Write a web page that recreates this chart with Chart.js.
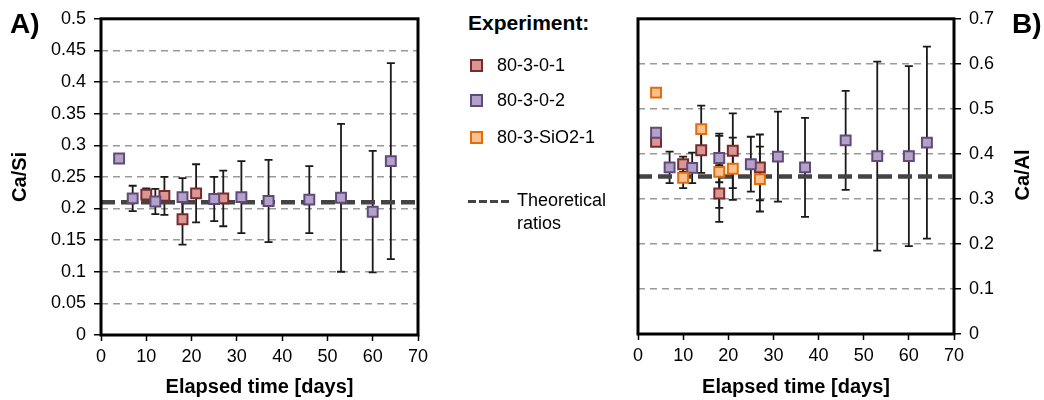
<!DOCTYPE html>
<html>
<head>
<meta charset="utf-8">
<title>Ca/Si y Ca/Al</title>
<script src="https://cdn.jsdelivr.net/npm/chart.js@4.4.1/dist/chart.umd.min.js"></script>
<style>
  body { margin: 0; background: #fff; font-family: "Liberation Sans", Arial, sans-serif; }
  #wrap { position: relative; width: 1044px; height: 400px; overflow: hidden; }
  #graficoA { position: absolute; left: 0; top: 0; }
  #graficoB { position: absolute; left: 600px; top: 0; }
  .txt { position: absolute; white-space: nowrap; color: #000; }
  .panel { font-weight: bold; font-size: 28px; line-height: 28px; }
  .ytitulo { font-weight: bold; font-size: 20px; line-height: 24px; width: 100px; text-align: center; transform: rotate(-90deg); }
  .leyenda { font-size: 18px; line-height: 18px; }
  .marca { position: absolute; width: 9px; height: 9px; border: 2px solid; }
  .guion { position: absolute; width: 42px; height: 3px;
           background: repeating-linear-gradient(90deg, #444 0 8px, transparent 8px 11px); }
</style>
</head>
<body>
<div id="wrap">
  <canvas id="graficoA" width="440" height="400"></canvas>
  <canvas id="graficoB" width="444" height="400"></canvas>
  <div class="txt panel" style="left:10px; top:10px;">A)</div>
  <div class="txt panel" style="left:1012px; top:10px;">B)</div>
  <div class="txt ytitulo" style="left:972px; top:163px;">Ca/Al</div>
  <div id="leyenda"></div>
</div>
<script>
// series
const series = ["80-3-0-1", "80-3-0-2", "80-3-SiO2-1"];
const rellenos = ["#d99694", "#b3a2c7", "#fac090"];
const bordes = ["#772c2a", "#604a7b", "#e46c0a"];

// Ca/Si
const diasCaSi01 = [10, 14, 18, 21, 27];
const caSi01 = [0.222, 0.220, 0.183, 0.224, 0.216];
const errCaSi01 = [0.010, 0.030, 0.040, 0.046, 0.044];
const diasCaSi02 = [4, 7, 12, 18, 25, 31, 37, 46, 53, 60, 64];
const caSi02 = [0.279, 0.216, 0.211, 0.218, 0.215, 0.218, 0.212, 0.214, 0.217, 0.195, 0.275];
const errCaSi02 = [0, 0.020, 0.020, 0.030, 0.035, 0.057, 0.065, 0.053, 0.117, 0.096, 0.155];

// Ca/Al
const diasCaAl01 = [4, 10, 14, 18, 21, 27];
const caAl01 = [0.427, 0.377, 0.408, 0.312, 0.407, 0.370];
const errCaAl01 = [0, 0.017, 0.050, 0.063, 0.083, 0.073];
const diasCaAl02 = [4, 7, 12, 18, 25, 31, 37, 46, 53, 60, 64];
const caAl02 = [0.447, 0.370, 0.369, 0.391, 0.377, 0.394, 0.370, 0.430, 0.395, 0.395, 0.425];
const errCaAl02 = [0, 0.035, 0.034, 0.054, 0.061, 0.100, 0.110, 0.110, 0.210, 0.200, 0.213];
const diasCaAlSiO2 = [4, 10, 14, 18, 21, 27];
const caAlSiO2 = [0.536, 0.347, 0.455, 0.360, 0.367, 0.344];
const errCaAlSiO2 = [0, 0.023, 0.052, 0.080, 0.069, 0.072];

// razones teoricas
const teoricoX = [0, 70];
const teoricoCaSi = [0.21, 0.21];
const teoricoCaAl = [0.35, 0.35];

// ticks
const ticksX = [0, 10, 20, 30, 40, 50, 60, 70];
const ticksCaSi = [0, 0.05, 0.1, 0.15, 0.2, 0.25, 0.3, 0.35, 0.4, 0.45, 0.5];
const ticksCaAl = [0, 0.1, 0.2, 0.3, 0.4, 0.5, 0.6, 0.7];

Chart.defaults.font.family = "'Liberation Sans', Arial, sans-serif";
Chart.defaults.font.size = 18;
Chart.defaults.color = "#000";

const puntos = (xs, ys) => xs.map((x, i) => ({ x: x, y: ys[i] }));

function serie(n, xs, ys, errs) {
  return {
    label: series[n],
    data: puntos(xs, ys),
    errores: errs,
    showLine: false,
    pointStyle: "rect",
    pointRadius: 7,
    pointHoverRadius: 7,
    borderWidth: 2,
    backgroundColor: rellenos[n],
    borderColor: bordes[n],
    order: 3 - n,
  };
}

function teorico(ys) {
  return {
    label: "Theoretical ratios",
    data: puntos(teoricoX, ys),
    showLine: true,
    pointRadius: 0,
    borderColor: "#444",
    borderWidth: 4.5,
    borderDash: [14, 6],
    order: 4,
  };
}

// barras de error verticales con remate
const barrasError = {
  id: "barrasError",
  beforeDatasetsDraw(chart) {
    const ctx = chart.ctx;
    const sx = chart.scales.x, sy = chart.scales.y;
    ctx.save();
    ctx.strokeStyle = "#1a1a1a";
    ctx.lineWidth = 1.8;
    chart.data.datasets.forEach((ds) => {
      if (!ds.errores) return;
      ds.data.forEach((p, i) => {
        const e = ds.errores[i];
        if (!e) return;
        const px = sx.getPixelForValue(p.x);
        const y1 = sy.getPixelForValue(p.y + e);
        const y2 = sy.getPixelForValue(p.y - e);
        ctx.beginPath();
        ctx.moveTo(px, y1); ctx.lineTo(px, y2);
        ctx.moveTo(px - 4, y1); ctx.lineTo(px + 4, y1);
        ctx.moveTo(px - 4, y2); ctx.lineTo(px + 4, y2);
        ctx.stroke();
      });
    });
    ctx.restore();
  },
};

// marco negro alrededor del area
const marco = {
  id: "marco",
  afterDraw(chart) {
    const a = chart.chartArea;
    const ctx = chart.ctx;
    ctx.save();
    ctx.strokeStyle = "#000";
    ctx.lineWidth = 3;
    ctx.strokeRect(a.left, a.top, a.right - a.left, a.bottom - a.top);
    ctx.restore();
  },
};

const etiqueta = (v) => String(Number(v.toFixed(2)));

function ejeX(ancho) {
  return {
    type: "linear",
    min: 0,
    max: 70,
    afterBuildTicks: (s) => { s.ticks = ticksX.map((v) => ({ value: v })); },
    afterFit: (s) => { s.height = ancho; },
    border: { display: false },
    grid: { drawOnChartArea: false, tickLength: 6, tickColor: "#000", tickWidth: 1.5 },
    ticks: { padding: 5, maxRotation: 0, callback: etiqueta },
    title: {
      display: true,
      text: "Elapsed time [days]",
      font: { size: 20, weight: "bold" },
      padding: { top: 0, bottom: 1 },
    },
  };
}

function ejeY(lado, ticks, max, ancho, titulo) {
  return {
    type: "linear",
    position: lado,
    min: 0,
    max: max,
    afterBuildTicks: (s) => { s.ticks = ticks.map((v) => ({ value: v })); },
    afterFit: (s) => { s.width = ancho; },
    // en v4 el guion de las lineas de rejilla va en border.dash
    border: { display: false, dash: [7, 5] },
    grid: {
      color: "#999",
      lineWidth: 1.5,
      tickBorderDash: [],
      tickLength: 7,
      tickColor: "#000",
      tickWidth: 1.5,
    },
    ticks: { padding: 8, callback: etiqueta },
    title: {
      display: !!titulo,
      text: titulo,
      font: { size: 20, weight: "bold" },
      padding: { top: 8, bottom: 0 },
    },
  };
}

const opcionesBase = {
  responsive: false,
  animation: false,
  events: [],
  plugins: { legend: { display: false }, tooltip: { enabled: false } },
};

new Chart(document.getElementById("graficoA"), {
  type: "scatter",
  data: {
    datasets: [
      serie(0, diasCaSi01, caSi01, errCaSi01),
      serie(1, diasCaSi02, caSi02, errCaSi02),
      teorico(teoricoCaSi),
    ],
  },
  options: Object.assign({}, opcionesBase, {
    layout: { padding: { left: 0, right: 22, top: 18, bottom: 0 } },
    scales: { x: ejeX(65), y: ejeY("left", ticksCaSi, 0.5, 101, "Ca/Si") },
  }),
  plugins: [barrasError, marco],
});

new Chart(document.getElementById("graficoB"), {
  type: "scatter",
  data: {
    datasets: [
      serie(0, diasCaAl01, caAl01, errCaAl01),
      serie(1, diasCaAl02, caAl02, errCaAl02),
      serie(2, diasCaAlSiO2, caAlSiO2, errCaAlSiO2),
      teorico(teoricoCaAl),
    ],
  },
  options: Object.assign({}, opcionesBase, {
    layout: { padding: { left: 38, right: 0, top: 16, bottom: 0 } },
    scales: { x: ejeX(66), y: ejeY("right", ticksCaAl, 0.7, 90, "") },
  }),
  plugins: [barrasError, marco],
});

// leyenda comun
const leyenda = document.getElementById("leyenda");
let html = '<div class="txt" style="left:468px; top:12px; font-weight:bold; font-size:21px; line-height:21px;">Experiment:</div>';
const filas = [65, 100, 137];
series.forEach((nombre, i) => {
  html += '<div class="marca" style="left:470px; top:' + (filas[i] - 6.5) + 'px; background:' + rellenos[i] + '; border-color:' + bordes[i] + ';"></div>';
  html += '<div class="txt leyenda" style="left:497px; top:' + (filas[i] - 8.8) + 'px;">' + nombre + '</div>';
});
html += '<div class="guion" style="left:468px; top:200px;"></div>';
html += '<div class="txt leyenda" style="left:517px; top:189px; line-height:23px;">Theoretical<br>ratios</div>';
leyenda.innerHTML = html;
</script>
</body>
</html>
